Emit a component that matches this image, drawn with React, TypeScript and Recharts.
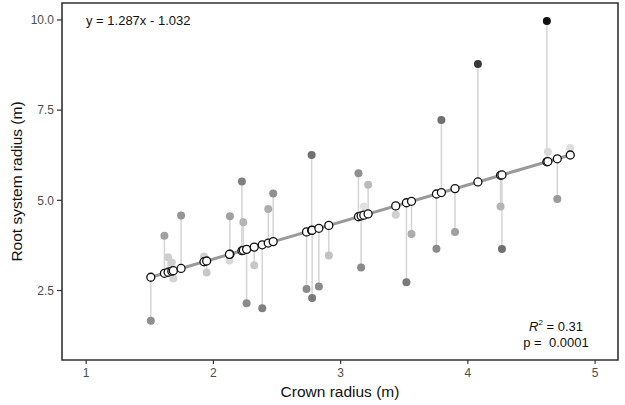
import React from 'react';
import { ComposedChart, Scatter, XAxis, YAxis, ReferenceArea, ErrorBar, Label } from 'recharts';

// Crown radius (m) of each tree
const crownRadius = [
  1.508, 1.615, 1.644, 1.673, 1.685, 1.746, 1.926, 1.947, 2.13, 2.126,
  2.224, 2.235, 2.261, 2.321, 2.384, 2.431, 2.47, 2.732, 2.772, 2.776,
  2.829, 2.907, 3.14, 3.161, 3.182, 3.216, 3.433, 3.517, 3.557, 3.753,
  3.792, 3.899, 4.079, 4.257, 4.268, 4.621, 4.629, 4.703, 4.805,
];
// Observed root system radius (m)
const rootRadius = [
  1.66, 4.02, 3.42, 3.28, 2.83, 4.58, 3.44, 3.0, 4.56, 3.33,
  5.52, 4.39, 2.15, 3.2, 2.01, 4.76, 5.19, 2.54, 6.26, 2.29,
  2.61, 3.47, 5.75, 3.14, 4.83, 5.43, 4.6, 2.73, 4.07, 3.66,
  7.23, 4.12, 8.78, 4.83, 3.65, 9.97, 6.35, 5.04, 6.45,
];
// Shading value of each observed point (0 = light, 1 = dark)
const shadeValue = [
  0.39, 0.31, 0.09, 0.08, 0.06, 0.36, 0.08, 0.12, 0.31, 0.04,
  0.46, 0.21, 0.41, 0.12, 0.46, 0.25, 0.39, 0.41, 0.54, 0.49,
  0.41, 0.15, 0.39, 0.42, 0.0, 0.18, 0.08, 0.49, 0.25, 0.41,
  0.54, 0.31, 0.8, 0.21, 0.54, 0.99, 0.04, 0.34, 0.02,
];
// Fitted line as drawn in the figure
const LINE_SLOPE = 1.028;
const LINE_INTERCEPT = 1.317;

const xTicks = [1, 2, 3, 4, 5];
const yTicks = [2.5, 5, 7.5, 10];
const X_DOMAIN = [0.81, 5.18];
const Y_DOMAIN = [0.574, 10.47];

const equationText = 'y = 1.287x - 1.032';
const r2Text = '0.31';
const pText = '0.0001';

const observed = crownRadius.map((x, i) => ({ x, y: rootRadius[i], tone: shadeValue[i] }));
const fitted = crownRadius.map((x, i) => {
  const f = LINE_INTERCEPT + LINE_SLOPE * x;
  const o = rootRadius[i];
  return { x, y: f, err: o < f ? [f - o, 0] : [0, o - f] };
});
const xMin = Math.min(...crownRadius);
const xMax = Math.max(...crownRadius);
const lineData = [
  { x: xMin, y: LINE_INTERCEPT + LINE_SLOPE * xMin },
  { x: xMax, y: LINE_INTERCEPT + LINE_SLOPE * xMax },
];

const toneColor = (t: number) => {
  const g = Math.round(225 - t * 210);
  return `rgb(${g},${g},${g})`;
};

const FONT = '"Liberation Sans", Arial, sans-serif';

const ObservedDot = (props: any) => (
  <circle cx={props.cx} cy={props.cy} r={4} fill={toneColor(props.payload.tone)} />
);
const FittedDot = (props: any) => (
  <circle cx={props.cx} cy={props.cy} r={4} fill="#ffffff" stroke="#111" strokeWidth={1.3} />
);
const NoDot = () => <g />;

export default function App() {
  return (
    <div style={{ position: 'absolute', left: 0, top: 0, width: 625, height: 405, background: '#fff', fontFamily: FONT }}>
      <ComposedChart
        width={625}
        height={405}
        margin={{ top: 3, right: 7, bottom: 0, left: 0 }}
        style={{ fontFamily: FONT }}
      >
        <XAxis
          type="number"
          dataKey="x"
          domain={X_DOMAIN}
          ticks={xTicks}
          interval={0}
          allowDataOverflow
          axisLine={false}
          tickLine={{ stroke: '#333', strokeWidth: 1.2 }}
          tickSize={4}
          tickMargin={4}
          tick={{ fill: '#4d4d4d', fontSize: 12 }}
          height={45}
        >
          <Label value="Crown radius (m)" position="insideBottom" offset={8} style={{ fontSize: 15.5, fill: '#111' }} />
        </XAxis>
        <YAxis
          type="number"
          dataKey="y"
          domain={Y_DOMAIN}
          ticks={yTicks}
          interval={0}
          allowDataOverflow
          axisLine={false}
          tickLine={{ stroke: '#333', strokeWidth: 1.2 }}
          tickSize={5}
          tickMargin={3}
          tickFormatter={(v: number) => v.toFixed(1)}
          tick={{ fill: '#4d4d4d', fontSize: 12 }}
          width={62}
        >
          <Label
            value="Root system radius (m)"
            angle={-90}
            position="insideLeft"
            offset={16}
            style={{ fontSize: 15.5, fill: '#111', textAnchor: 'middle' }}
          />
        </YAxis>
        <Scatter data={fitted} shape={NoDot} isAnimationActive={false}>
          <ErrorBar dataKey="err" direction="y" width={0} stroke="#d4d4d4" strokeWidth={1.5} isAnimationActive={false} />
        </Scatter>
        <Scatter data={lineData} shape={NoDot} line={{ stroke: '#9a9a9a', strokeWidth: 3 }} isAnimationActive={false} />
        <Scatter data={observed} shape={ObservedDot} isAnimationActive={false} />
        <Scatter data={fitted} shape={FittedDot} isAnimationActive={false} />
        <ReferenceArea
          x1={X_DOMAIN[0]}
          x2={X_DOMAIN[1]}
          y1={Y_DOMAIN[0]}
          y2={Y_DOMAIN[1]}
          fill="none"
          fillOpacity={0}
          stroke="#333"
          strokeWidth={1.6}
          ifOverflow="visible"
        />
      </ComposedChart>
      <div style={{ position: 'absolute', left: 86, top: 13, fontSize: 13, lineHeight: '15px', color: '#111', whiteSpace: 'pre' }}>
        {equationText}
      </div>
      <div style={{ position: 'absolute', left: 496, top: 319, width: 120, fontSize: 13, lineHeight: '16px', color: '#111', textAlign: 'center', whiteSpace: 'pre' }}>
        <div>
          <i>R</i>
          <sup style={{ fontSize: 8, verticalAlign: 'top', lineHeight: '8px' }}>2</sup> = {r2Text}
        </div>
        <div>{`p =  ${pText}`}</div>
      </div>
    </div>
  );
}
